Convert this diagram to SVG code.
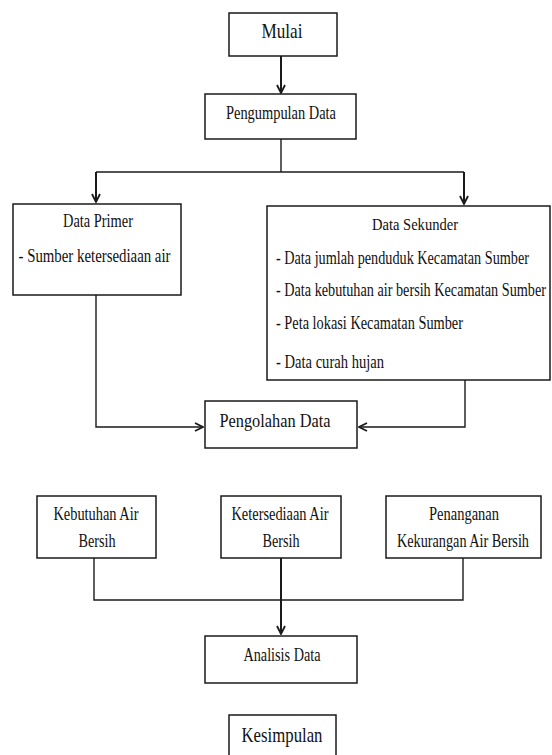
<svg xmlns="http://www.w3.org/2000/svg" width="552" height="755" viewBox="0 0 552 755">
<style>
.box{fill:#fff;stroke:#1a1a1a;stroke-width:1.5}
.t{font-family:"Liberation Serif","Times New Roman",serif;font-size:18.5px;fill:#111;text-anchor:middle}
.l{text-anchor:start}
.c{fill:none;stroke:#1a1a1a;stroke-width:1.4}
.a{fill:none;stroke:#1a1a1a;stroke-width:2}
</style>
<defs>
<marker id="ah" viewBox="0 0 10 10" refX="9" refY="5" markerWidth="10" markerHeight="10" markerUnits="userSpaceOnUse" orient="auto">
<path d="M1,1 L9,5 L1,9" fill="none" stroke="#1a1a1a" stroke-width="1.8"/>
</marker>
</defs>
<g id="connectors">
<line class="a" x1="281" y1="56" x2="281" y2="93" marker-end="url(#ah)"/>
<polyline class="c" points="281,139 281,172"/>
<polyline class="c" points="96,172 464,172"/>
<line class="a" x1="96" y1="172" x2="96" y2="202" marker-end="url(#ah)"/>
<line class="a" x1="464" y1="172" x2="464" y2="204" marker-end="url(#ah)"/>
<polyline class="c" points="96,295 96,427 203,427" marker-end="url(#ah)"/>
<polyline class="c" points="465,380 465,427 359,427" marker-end="url(#ah)"/>
<polyline class="c" points="94,558 94,600 463,600 463,558"/>
<line class="a" x1="281" y1="558" x2="281" y2="634" marker-end="url(#ah)"/>
</g>
<g id="mulai">
<rect class="box" x="229" y="13" width="108" height="43"/>
<text class="t" transform="scale(0.8,1)" x="352.5" y="38" style="font-size:22px" textLength="51.25" lengthAdjust="spacingAndGlyphs">Mulai</text>
</g>
<g id="pengumpulan">
<rect class="box" x="205" y="94" width="151" height="45"/>
<text class="t" transform="scale(0.8,1)" x="351.25" y="119" style="font-size:19.5px" textLength="137.5" lengthAdjust="spacingAndGlyphs">Pengumpulan Data</text>
</g>
<g id="primer">
<rect class="box" x="13" y="204" width="168" height="91"/>
<text class="t" transform="scale(0.8,1)" x="122.5" y="227" textLength="87.5" lengthAdjust="spacingAndGlyphs">Data Primer</text>
<text class="t" transform="scale(0.8,1)" x="118.125" y="262" textLength="190" lengthAdjust="spacingAndGlyphs">- Sumber ketersediaan air</text>
</g>
<g id="sekunder">
<rect class="box" x="267" y="206" width="283" height="174"/>
<text class="t" transform="scale(0.8,1)" x="518.75" y="230" style="font-size:17.5px" textLength="107.5" lengthAdjust="spacingAndGlyphs">Data Sekunder</text>
<text class="t l" transform="scale(0.8,1)" x="345" y="264" textLength="316.25" lengthAdjust="spacingAndGlyphs">- Data jumlah penduduk Kecamatan Sumber</text>
<text class="t l" transform="scale(0.75,1)" x="368" y="296" textLength="360" lengthAdjust="spacingAndGlyphs">- Data kebutuhan air bersih Kecamatan Sumber</text>
<text class="t l" transform="scale(0.8,1)" x="345" y="329" textLength="233.75" lengthAdjust="spacingAndGlyphs">- Peta lokasi Kecamatan Sumber</text>
<text class="t l" transform="scale(0.8,1)" x="345" y="368" textLength="135" lengthAdjust="spacingAndGlyphs">- Data curah hujan</text>
</g>
<g id="pengolahan">
<rect class="box" x="205" y="401" width="152" height="47"/>
<text class="t" transform="scale(0.8,1)" x="343.75" y="427" textLength="138.75" lengthAdjust="spacingAndGlyphs">Pengolahan Data</text>
</g>
<g id="kebutuhan">
<rect class="box" x="37" y="496" width="119" height="62"/>
<text class="t" transform="scale(0.8,1)" x="120" y="520" textLength="106.25" lengthAdjust="spacingAndGlyphs">Kebutuhan Air</text>
<text class="t" transform="scale(0.8,1)" x="121.25" y="547" textLength="46.25" lengthAdjust="spacingAndGlyphs">Bersih</text>
</g>
<g id="ketersediaan">
<rect class="box" x="221" y="496" width="120" height="62"/>
<text class="t" transform="scale(0.8,1)" x="350" y="520" textLength="121.25" lengthAdjust="spacingAndGlyphs">Ketersediaan Air</text>
<text class="t" transform="scale(0.8,1)" x="351.25" y="547" textLength="46.25" lengthAdjust="spacingAndGlyphs">Bersih</text>
</g>
<g id="penanganan">
<rect class="box" x="386" y="496" width="155" height="62"/>
<text class="t" transform="scale(0.8,1)" x="580" y="520" textLength="87.5" lengthAdjust="spacingAndGlyphs">Penanganan</text>
<text class="t" transform="scale(0.8,1)" x="578.75" y="547" textLength="165" lengthAdjust="spacingAndGlyphs">Kekurangan Air Bersih</text>
</g>
<g id="analisis">
<rect class="box" x="205" y="636" width="152" height="47"/>
<text class="t" transform="scale(0.8,1)" x="352.5" y="661" textLength="96.25" lengthAdjust="spacingAndGlyphs">Analisis Data</text>
</g>
<g id="kesimpulan">
<rect class="box" x="229" y="715" width="107" height="50"/>
<text class="t" transform="scale(0.8,1)" x="352.5" y="742" style="font-size:21px" textLength="101.25" lengthAdjust="spacingAndGlyphs">Kesimpulan</text>
</g>
</svg>
